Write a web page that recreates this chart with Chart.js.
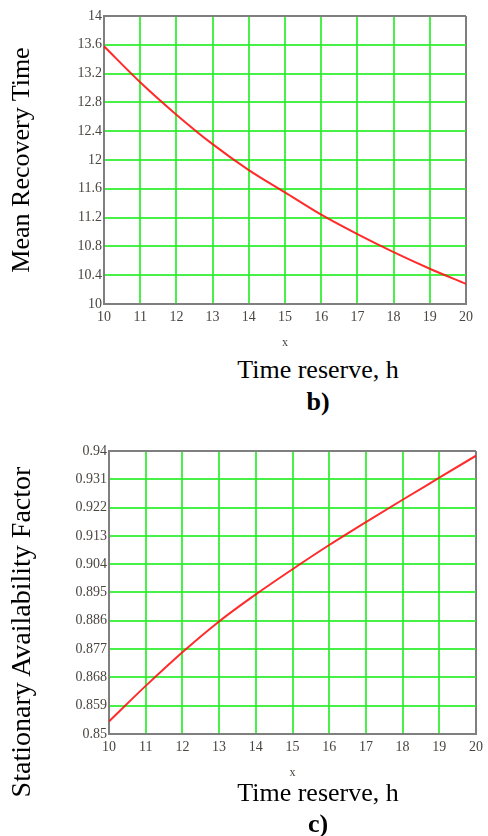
<!DOCTYPE html>
<html>
<head>
<meta charset="utf-8">
<script src="https://cdn.jsdelivr.net/npm/chart.js@4/dist/chart.umd.min.js"></script>
<style>
    html, body { margin: 0; padding: 0; background: #fff; }
    body { width: 488px; height: 836px; position: relative; overflow: hidden; font-family: "Liberation Serif", "Times New Roman", serif; }
    .box { position: absolute; left: 0; width: 488px; }
    .lbl { position: absolute; color: #000; white-space: nowrap; transform: translate(-50%, -50%); }
    .rot { transform: translate(-50%, -50%) rotate(-90deg); }
</style>
</head>
<body>
<div class="box" style="top:0;height:350px"><canvas id="recoveryChart" width="488" height="350"></canvas></div>
<div class="box" style="top:420px;height:360px"><canvas id="availChart" width="488" height="360"></canvas></div>

<div class="lbl rot" style="left:21px;top:160px;font-size:26px">Mean Recovery Time</div>
<div class="lbl" style="left:318px;top:370px;font-size:26px">Time reserve, h</div>
<div class="lbl" style="left:318px;top:402px;font-size:26px;font-weight:bold">b)</div>

<div class="lbl rot" style="left:21px;top:632px;font-size:28px">Stationary Availability Factor</div>
<div class="lbl" style="left:318px;top:793px;font-size:26px">Time reserve, h</div>
<div class="lbl" style="left:318px;top:824px;font-size:26px;font-weight:bold">c)</div>

<script>
// === DATA ===
const hours = [10, 11, 12, 13, 14, 15, 16, 17, 18, 19, 20];
const meanRecovery = [13.58, 13.08, 12.63, 12.22, 11.86, 11.55, 11.24, 10.97, 10.72, 10.49, 10.28];
const availability = [0.854, 0.8653, 0.876, 0.8858, 0.8944, 0.9024, 0.9101, 0.9174, 0.9245, 0.9315, 0.9385];

const xTicks = [10, 11, 12, 13, 14, 15, 16, 17, 18, 19, 20];
const recoveryTicks = [10, 10.4, 10.8, 11.2, 11.6, 12, 12.4, 12.8, 13.2, 13.6, 14];
const availTicks = [0.85, 0.859, 0.868, 0.877, 0.886, 0.895, 0.904, 0.913, 0.922, 0.931, 0.94];

// === STYLE ===
const GREEN = "rgba(40, 238, 40, 0.85)";
const GREY = "#7f7f7f";
const RED = "rgba(255, 20, 20, 0.9)";
const TICK_COLOR = "#4a4540";
const TICK_FONT = { family: "'Liberation Serif', 'Times New Roman', serif", size: 14 };

function edgeColor(lo, hi) {
    return (ctx) => {
        const v = ctx.tick ? ctx.tick.value : null;
        return v === lo || v === hi ? GREY : GREEN;
    };
}

function makeChart(id, values, yTicks, fmt, box) {
    const ctx = document.getElementById(id).getContext("2d");
    const yMin = yTicks[0];
    const yMax = yTicks[yTicks.length - 1];
    const xMin = xTicks[0];
    const xMax = xTicks[xTicks.length - 1];

    return new Chart(ctx, {
        type: "line",
        data: {
            datasets: [
                {
                    data: hours.map((h, i) => ({ x: h, y: values[i] })),
                    borderColor: RED,
                    borderWidth: 2,
                    pointRadius: 0,
                    cubicInterpolationMode: "monotone",
                    fill: false,
                },
            ],
        },
        options: {
            responsive: false,
            animation: false,
            layout: { padding: { left: 0, top: box.top, right: box.right, bottom: 0 } },
            plugins: { legend: { display: false }, tooltip: { enabled: false } },
            scales: {
                x: {
                    type: "linear",
                    min: xMin,
                    max: xMax,
                    afterBuildTicks: (scale) => { scale.ticks = xTicks.map((v) => ({ value: v })); },
                    afterFit: (scale) => { scale.height = box.xHeight; },
                    grid: { color: edgeColor(xMin, xMax), lineWidth: 2, drawTicks: false },
                    border: { color: GREY, width: 2 },
                    ticks: { color: TICK_COLOR, font: TICK_FONT, padding: 5, maxRotation: 0, autoSkip: false },
                    title: {
                        display: true,
                        text: "x",
                        color: TICK_COLOR,
                        font: { family: TICK_FONT.family, size: 12 },
                        padding: { top: 0, bottom: 0 },
                    },
                },
                y: {
                    min: yMin,
                    max: yMax,
                    afterBuildTicks: (scale) => { scale.ticks = yTicks.map((v) => ({ value: v })); },
                    afterFit: (scale) => { scale.width = box.yWidth; },
                    grid: { color: edgeColor(yMin, yMax), lineWidth: 2, drawTicks: false },
                    border: { color: GREY, width: 2 },
                    ticks: { color: TICK_COLOR, font: TICK_FONT, padding: 2, callback: fmt, autoSkip: false },
                },
            },
        },
    });
}

makeChart("recoveryChart", meanRecovery, recoveryTicks, (v) => String(+v.toFixed(1)),
    { top: 16, right: 22, yWidth: 104, xHeight: 46 });
makeChart("availChart", availability, availTicks, (v) => String(+v.toFixed(3)),
    { top: 31, right: 9, yWidth: 109, xHeight: 46 });
</script>
</body>
</html>
